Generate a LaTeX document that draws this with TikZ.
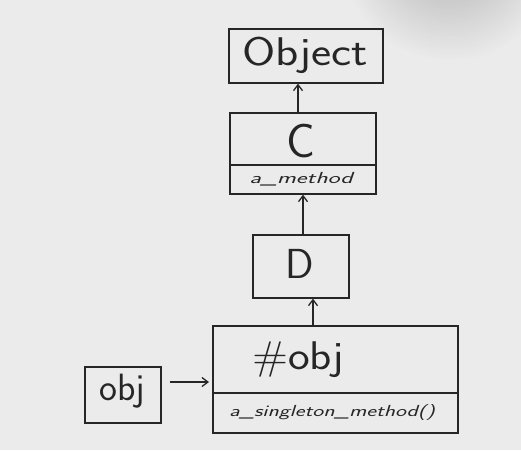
\documentclass[tikz,border=0pt]{standalone}
\usetikzlibrary{arrows.meta,positioning}
\begin{document}
\begin{tikzpicture}[x=1pt,y=-1pt,
  box/.style={draw=black!85,line width=1.6pt,rectangle,inner sep=0pt,anchor=north west},
  big/.style={font=\sffamily\fontsize{40}{40}\selectfont,text=black!85,inner sep=0pt},
  small/.style={font=\sffamily\itshape\fontsize{16}{16}\selectfont,text=black!85,inner sep=0pt},
  conn/.style={draw=black!85,line width=1.4pt,-{Straight Barb[length=6pt,width=9pt,line width=1.3pt]}},
  divider/.style={draw=black!85,line width=1.4pt}]
\useasboundingbox (0,0) rectangle (521,450);
\fill[black!8] (0,0) rectangle (521,450);
\shade[inner color=black!40,outer color=black!8,opacity=0.7] (450,-50) circle (110);
% nodes
\node[box,minimum width=154pt,minimum height=54pt] (object) at (228,28) {};
\node[big] (objt) at (305,55) {\scalebox{1.2}[1]{Object}};
\node[box,minimum width=146pt,minimum height=81pt] (c) at (229,112) {};
\node[big,font=\sffamily\fontsize{48}{48}\selectfont] (ct) at (301,141) {C};
\coordinate (cdl) at (229,165);
\coordinate (cdr) at (375,165);
\node[small] (cm) at (301,179) {\scalebox{1.6}[1]{a\_method}};
\node[box,minimum width=96pt,minimum height=63pt] (d) at (252,234) {};
\node[big,font=\sffamily\fontsize{42}{42}\selectfont] (dt) at (300,264) {D};
\node[box,minimum width=245pt,minimum height=107pt] (s) at (212,325) {};
\node[big] (st) at (298,360) {\scalebox{1.15}[1]{\#obj}};
\coordinate (sdl) at (212,393);
\coordinate (sdr) at (457,393);
\node[small] (sm) at (332,412) {\scalebox{1.45}[1]{a\_singleton\_method()}};
\node[box,minimum width=76pt,minimum height=56pt] (o) at (84,366) {};
\node[big,font=\sffamily\fontsize{38}{38}\selectfont] (ot) at (122,391) {obj};
% dividers
\draw[divider] (cdl) -- (cdr);
\draw[divider] (sdl) -- (sdr);
% connectors
\draw[conn] (c.north -| 298,0) -- (object.south -| 298,0);
\draw[conn] (d.north -| 303,0) -- (c.south -| 303,0);
\draw[conn] (s.north -| 313,0) -- (d.south -| 313,0);
\draw[conn] ([xshift=8pt]o.east |- 0,382) -- ([xshift=-3pt]s.west |- 0,382);
\end{tikzpicture}
\end{document}
